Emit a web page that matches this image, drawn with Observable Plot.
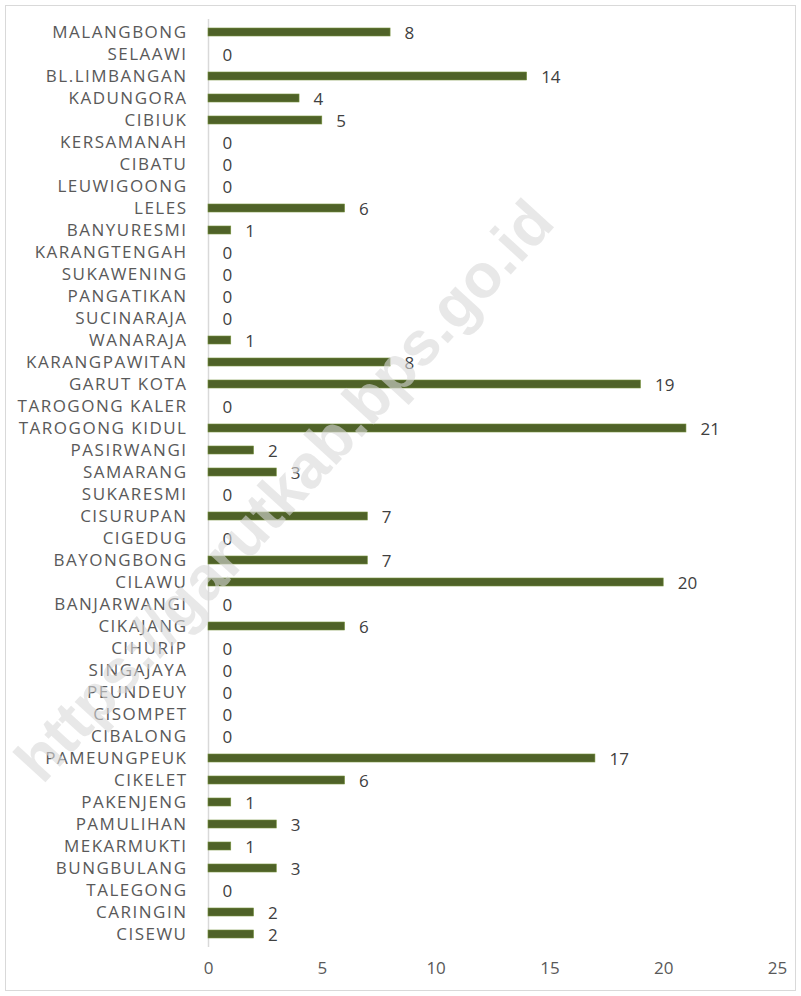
<!DOCTYPE html>
<html>
<head>
<meta charset="utf-8">
<script src="https://cdn.jsdelivr.net/npm/d3@7"></script>
<script src="https://cdn.jsdelivr.net/npm/@observablehq/plot@0.6"></script>
<style>
  html, body { margin: 0; padding: 0; background: #fff; }
  #chart { position: relative; width: 801px; height: 996px; }
  #chart svg { display: block; }
</style>
</head>
<body>
<div id="chart"></div>
<script>
const kecamatan = [
  "MALANGBONG","SELAAWI","BL.LIMBANGAN","KADUNGORA","CIBIUK","KERSAMANAH","CIBATU",
  "LEUWIGOONG","LELES","BANYURESMI","KARANGTENGAH","SUKAWENING","PANGATIKAN","SUCINARAJA",
  "WANARAJA","KARANGPAWITAN","GARUT KOTA","TAROGONG KALER","TAROGONG KIDUL","PASIRWANGI",
  "SAMARANG","SUKARESMI","CISURUPAN","CIGEDUG","BAYONGBONG","CILAWU","BANJARWANGI",
  "CIKAJANG","CIHURIP","SINGAJAYA","PEUNDEUY","CISOMPET","CIBALONG","PAMEUNGPEUK",
  "CIKELET","PAKENJENG","PAMULIHAN","MEKARMUKTI","BUNGBULANG","TALEGONG","CARINGIN","CISEWU"
];
const jumlah = [
  8,0,14,4,5,0,0,
  0,6,1,0,0,0,0,
  1,8,19,0,21,2,
  3,0,7,0,7,20,0,
  6,0,0,0,0,0,17,
  6,1,3,1,3,0,2,2
];
const xTicks = [0, 5, 10, 15, 20, 25];
const watermark = ["https://garutkab.bps.go.id"];

const data = kecamatan.map((k, i) => ({kecamatan: k, jumlah: jumlah[i]}));

const chart = Plot.plot({
  width: 801,
  height: 996,
  marginLeft: 208,
  marginRight: 24,
  marginTop: 19,
  marginBottom: 49,
  style: {fontFamily: "'Open Sans', sans-serif", fontSize: "17px", color: "#595959", background: "#fff"},
  x: {domain: [0, 25], ticks: xTicks},
  y: {domain: kecamatan, padding: 0},
  marks: [
    Plot.ruleX([0], {stroke: "#d9d9d9", strokeWidth: 1.5}),
    Plot.barX(data, {
      y: "kecamatan", x: "jumlah",
      fill: "#4f6228", stroke: "#76923c", strokeWidth: 0.6,
      insetTop: 7, insetBottom: 7
    }),
    Plot.text(data, {
      y: "kecamatan", x: "jumlah", text: d => String(d.jumlah),
      textAnchor: "start", dx: 14, dy: 1, fontSize: 17, fill: "#404040"
    }),
    Plot.axisX({ticks: xTicks, tickSize: 0, tickPadding: 14, label: null, fontSize: 17, fill: "#595959"}),
    Plot.axisY({tickSize: 0, tickPadding: 21, label: null, fontSize: 17, fill: "#595959"}),
    Plot.text(watermark, {
      text: d => d, frameAnchor: "middle", dx: -208, dy: 8, rotate: -47.5,
      fontSize: 62, fontWeight: "bold", fontFamily: "'Liberation Sans', Arial, sans-serif",
      fill: "#d9d9d9", fillOpacity: 0.6
    })
  ]
});

const svg = d3.select(chart);
svg.selectAll("[aria-label='y-axis tick label'] text").attr("letter-spacing", "1.5px");
svg.append("rect")
  .attr("x", 5.5).attr("y", 5.5).attr("width", 790).attr("height", 985)
  .attr("fill", "none").attr("stroke", "#d9d9d9").attr("stroke-width", 1);

document.getElementById("chart").appendChild(chart);
</script>
</body>
</html>
